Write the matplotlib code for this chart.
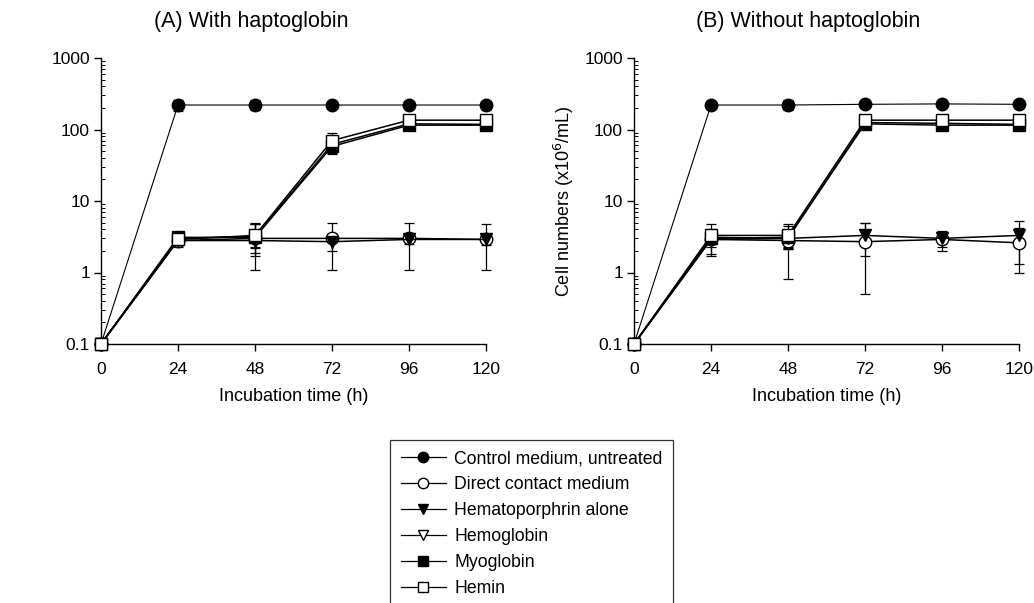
import matplotlib
matplotlib.use("Agg")
import matplotlib.pyplot as plt
from matplotlib.ticker import FixedLocator, FixedFormatter, LogLocator, NullFormatter
from matplotlib.lines import Line2D

plt.rcParams['font.family'] = ['Liberation Sans', 'DejaVu Sans']

hours = [0, 24, 48, 72, 96, 120]
x_tick_labels = ["0", "24", "48", "72", "96", "120"]
y_ticks = [0.1, 1, 10, 100, 1000]
y_tick_labels = ["0.1", "1", "10", "100", "1000"]

series_names = ["Control medium, untreated", "Direct contact medium", "Hematoporphrin alone",
                "Hemoglobin", "Myoglobin", "Hemin"]

# Panel A: with haptoglobin
control_A = [0.1, 220, 220, 220, 220, 220]
control_A_err = [0, 40, 35, 15, 15, 30]
direct_A = [0.1, 2.8, 3.0, 3.0, 3.0, 2.9]
direct_A_err = [0, 0.4, 1.9, 1.9, 1.9, 1.8]
hemato_A = [0.1, 2.8, 2.8, 2.7, 2.9, 2.9]
hemato_A_err = [0, 0.5, 0.6, 0.7, 0.4, 0.5]
hemoglobin_A = [0.1, 3.0, 3.2, 62, 120, 118]
hemoglobin_A_err = [0, 0.4, 1.5, 15, 15, 12]
myoglobin_A = [0.1, 3.1, 3.1, 58, 115, 115]
myoglobin_A_err = [0, 0.5, 0.8, 12, 12, 10]
hemin_A = [0.1, 2.9, 3.3, 70, 135, 135]
hemin_A_err = [0, 0.4, 1.4, 20, 15, 15]

# Panel B: without haptoglobin
control_B = [0.1, 220, 220, 225, 228, 225]
control_B_err = [0, 20, 35, 20, 15, 25]
direct_B = [0.1, 2.9, 2.8, 2.7, 2.9, 2.6]
direct_B_err = [0, 1.2, 2.0, 2.2, 0.9, 1.6]
hemato_B = [0.1, 2.9, 3.0, 3.3, 3.0, 3.3]
hemato_B_err = [0, 0.6, 0.9, 1.6, 0.7, 2.0]
hemoglobin_B = [0.1, 3.1, 3.0, 125, 122, 118]
hemoglobin_B_err = [0, 0.5, 0.8, 15, 12, 12]
myoglobin_B = [0.1, 3.0, 3.1, 120, 115, 115]
myoglobin_B_err = [0, 0.5, 0.8, 15, 12, 12]
hemin_B = [0.1, 3.3, 3.3, 135, 135, 135]
hemin_B_err = [0, 1.5, 1.2, 20, 15, 15]

styles = [
    dict(marker='o', mfc='black', ms=9, lw=0.8),
    dict(marker='o', mfc='white', ms=9, lw=1.1),
    dict(marker='v', mfc='black', ms=9, lw=1.1),
    dict(marker='v', mfc='white', ms=9, lw=1.1),
    dict(marker='s', mfc='black', ms=8, lw=1.1),
    dict(marker='s', mfc='white', ms=8, lw=1.1),
]

panel_A = [(control_A, control_A_err), (direct_A, direct_A_err), (hemato_A, hemato_A_err),
           (hemoglobin_A, hemoglobin_A_err), (myoglobin_A, myoglobin_A_err), (hemin_A, hemin_A_err)]
panel_B = [(control_B, control_B_err), (direct_B, direct_B_err), (hemato_B, hemato_B_err),
           (hemoglobin_B, hemoglobin_B_err), (myoglobin_B, myoglobin_B_err), (hemin_B, hemin_B_err)]

W, H = 1034, 603
fig = plt.figure(figsize=(W / 100, H / 100), dpi=100)

def px_axes(left, right, top, bottom):
    return fig.add_axes([left / W, 1 - bottom / H, (right - left) / W, (bottom - top) / H])

axA = px_axes(101, 486, 58, 344)
axB = px_axes(634, 1019, 58, 344)

for ax, data in [(axA, panel_A), (axB, panel_B)]:
    ax.set_yscale('log')
    for (vals, errs), st in zip(data, styles):
        ax.errorbar(hours, vals, yerr=errs, color='black', mec='black',
                    marker=st['marker'], mfc=st['mfc'], ms=st['ms'], lw=st['lw'],
                    elinewidth=0.9, capsize=3.5, capthick=0.9, clip_on=False, zorder=3)
    ax.set_xlim(0, 120)
    ax.set_ylim(0.1, 1000)
    ax.spines['top'].set_visible(False)
    ax.spines['right'].set_visible(False)
    for s in ['left', 'bottom']:
        ax.spines[s].set_linewidth(1.0)
    ax.xaxis.set_major_locator(FixedLocator(hours))
    ax.xaxis.set_major_formatter(FixedFormatter(x_tick_labels))
    ax.yaxis.set_major_locator(FixedLocator(y_ticks))
    ax.yaxis.set_major_formatter(FixedFormatter(y_tick_labels))
    ax.yaxis.set_minor_locator(LogLocator(base=10, subs=range(2, 10)))
    ax.yaxis.set_minor_formatter(NullFormatter())
    ax.tick_params(axis='both', which='major', direction='out', length=5, width=1,
                   labelsize=12.5)
    ax.tick_params(axis='x', which='major', pad=8)
    ax.tick_params(axis='y', which='major', pad=3)
    ax.tick_params(axis='y', which='minor', direction='in', length=3, width=0.7)
    ax.set_xlabel("Incubation time (h)", fontsize=13, labelpad=8)

axB.set_ylabel("Cell numbers (x10$^6$/mL)", fontsize=13, labelpad=6)

fig.text(251 / W, 1 - 22 / H, "(A) With haptoglobin", fontsize=15.5, ha='center', va='center')
fig.text(808 / W, 1 - 22 / H, "(B) Without haptoglobin", fontsize=15.5, ha='center', va='center')

handles = [Line2D([0], [0], color='black', lw=0.9, marker=st['marker'], mfc=st['mfc'],
                  mec='black', ms=st['ms'] - 1.5) for st in styles]
leg = fig.legend(handles, series_names, loc='upper left',
                 bbox_to_anchor=(390 / W, 1 - 440 / H), fontsize=12.7, frameon=True,
                 fancybox=False, edgecolor='black', handlelength=2.55, handletextpad=0.5,
                 labelspacing=0.5, borderpad=0.6, borderaxespad=0)
leg.get_frame().set_linewidth(0.9)

fig.savefig("out.png", dpi=100)
